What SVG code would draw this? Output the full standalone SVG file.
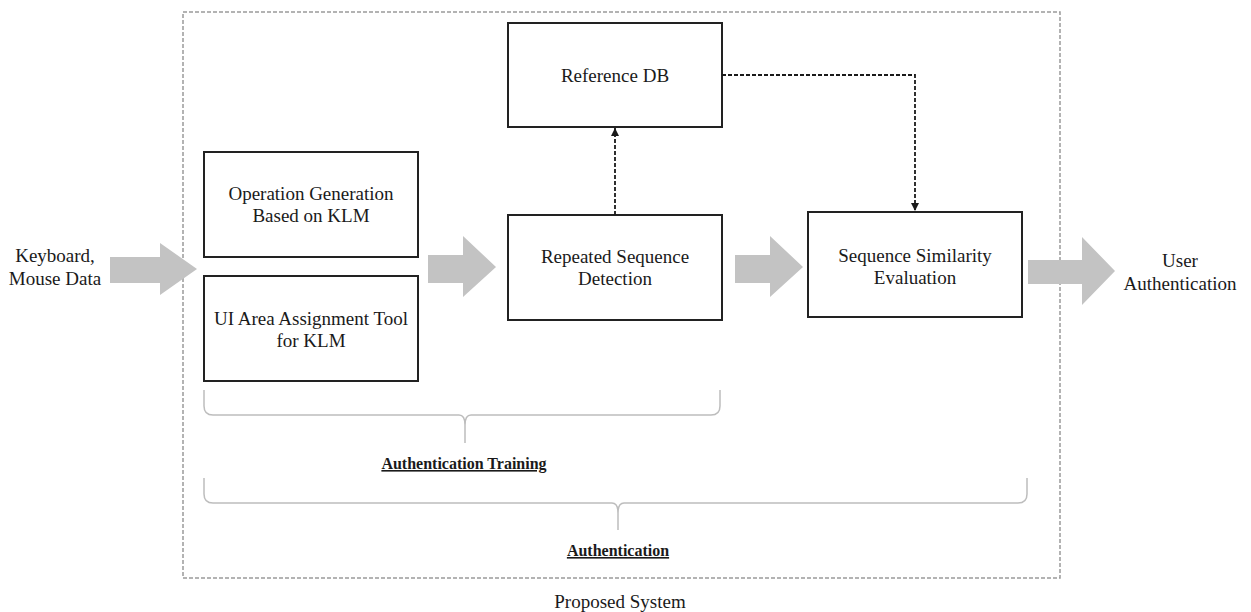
<svg xmlns="http://www.w3.org/2000/svg" width="1251" height="612" viewBox="0 0 1251 612">
<style>
  text { font-family: "Liberation Serif", "Times New Roman", serif; fill: #1a1a1a; }
  .t { font-size: 19px; text-anchor: middle; }
  .lbl { font-size: 16px; font-weight: bold; text-anchor: middle; text-decoration: underline; }
  .box { fill: #ffffff; stroke: #222222; stroke-width: 2; }
  .garrow { fill: #c3c3c3; stroke: none; }
  .dash { fill: none; stroke: #1a1a1a; stroke-width: 1.8; stroke-dasharray: 4 2; }
  .brace { fill: none; stroke: #bdbdbd; stroke-width: 1.5; }
  .frame { fill: none; stroke: #9a9a9a; stroke-width: 1.5; stroke-dasharray: 4 2; }
</style>
<defs>
  <marker id="ah" viewBox="0 0 10 10" refX="10" refY="5" markerWidth="8" markerHeight="8" markerUnits="userSpaceOnUse" orient="auto">
    <path d="M0,0 L10,5 L0,10 Z" fill="#1a1a1a"/>
  </marker>
</defs>
<rect x="0" y="0" width="1251" height="612" fill="#ffffff"/>

<rect id="proposed-system" class="frame" x="183" y="12" width="877" height="566"/>

<g id="input-label">
  <text class="t" x="55" y="262">Keyboard,</text>
  <text class="t" x="55" y="285">Mouse Data</text>
</g>
<g id="output-label">
  <text class="t" x="1180" y="267">User</text>
  <text class="t" x="1180" y="290">Authentication</text>
</g>

<g id="big-arrows">
  <path class="garrow" d="M110,257 H160 V243 L197,269 L160,295 V283 H110 Z"/>
  <path class="garrow" d="M428,255 H463 V236 L496,267 L463,297 V283 H428 Z"/>
  <path class="garrow" d="M735,255 H770 V236 L803,267 L770,297 V283 H735 Z"/>
  <path class="garrow" d="M1028,260 H1082 V237 L1115,271 L1082,305 V284 H1028 Z"/>
</g>

<g id="op-gen">
  <rect class="box" x="204" y="152" width="214" height="105"/>
  <text class="t" x="311" y="200">Operation Generation</text>
  <text class="t" x="311" y="222">Based on KLM</text>
</g>
<g id="ui-area">
  <rect class="box" x="204" y="276" width="214" height="105"/>
  <text class="t" x="311" y="325">UI Area Assignment Tool</text>
  <text class="t" x="311" y="347">for KLM</text>
</g>
<g id="reference-db">
  <rect class="box" x="508" y="23" width="214" height="104"/>
  <text class="t" x="615" y="82">Reference DB</text>
</g>
<g id="repeated-seq">
  <rect class="box" x="508" y="215" width="214" height="105"/>
  <text class="t" x="615" y="263">Repeated Sequence</text>
  <text class="t" x="615" y="285">Detection</text>
</g>
<g id="seq-sim">
  <rect class="box" x="808" y="212" width="214" height="105"/>
  <text class="t" x="915" y="262">Sequence Similarity</text>
  <text class="t" x="915" y="284">Evaluation</text>
</g>

<g id="connectors">
  <path class="dash" d="M615,215 V128" marker-end="url(#ah)"/>
  <path class="dash" d="M722,75 H915 V211" marker-end="url(#ah)"/>
</g>

<g id="brace-training">
  <path class="brace" d="M204,390 V406 Q204,415 213,415 H459 Q465,415 465,425 V443 M465,425 Q465,415 471,415 H711 Q720,415 720,406 V390"/>
  <text class="lbl" x="464" y="469">Authentication Training</text>
</g>
<g id="brace-auth">
  <path class="brace" d="M204,478 V494 Q204,503 213,503 H612 Q618,503 618,513 V530 M618,513 Q618,503 624,503 H1018 Q1027,503 1027,494 V478"/>
  <text class="lbl" x="618" y="556">Authentication</text>
</g>

<text class="t" x="620" y="608">Proposed System</text>
</svg>
